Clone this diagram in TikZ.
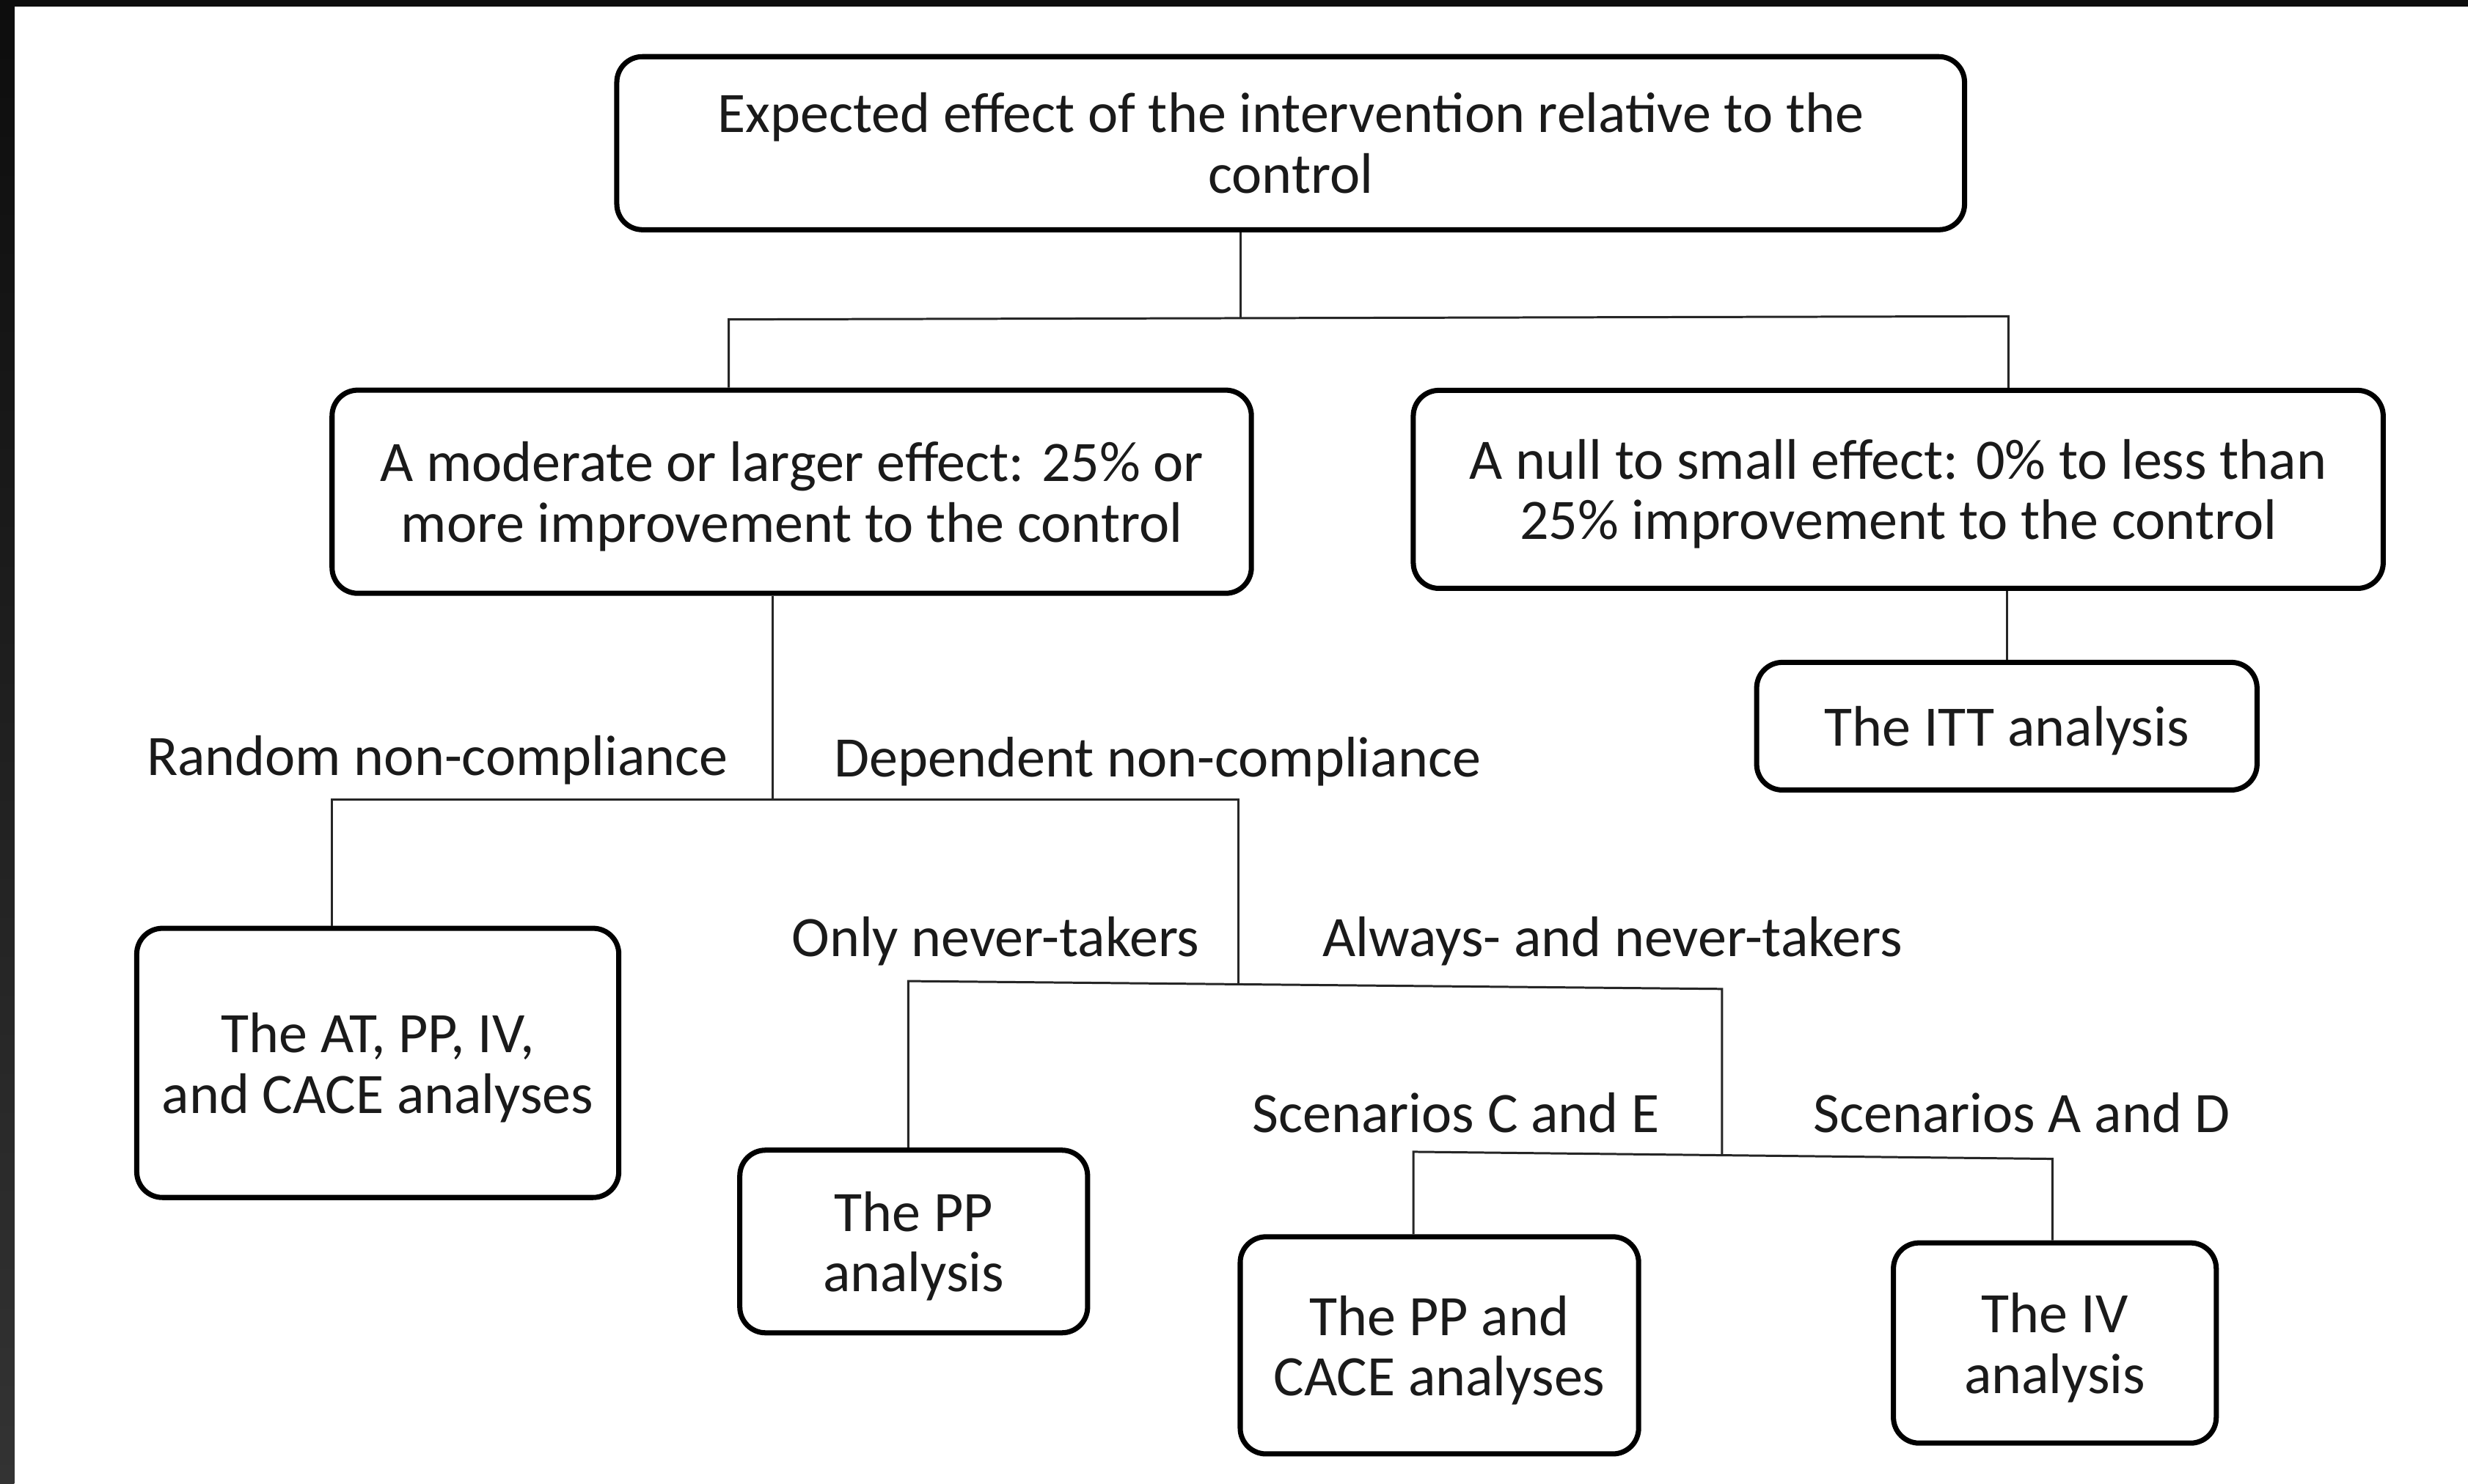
\documentclass[tikz,border=0pt]{standalone}
\usepackage{fontspec}
\setmainfont{Carlito}
\usetikzlibrary{calc}
\definecolor{textc}{HTML}{1A1A1A}
\definecolor{bandtop}{HTML}{0D0D0D}
\definecolor{bandbot}{HTML}{333333}
\newcommand\strtop{\rule{0pt}{22pt}}
\newcommand\strbot{\rule[-6.5pt]{0pt}{6.5pt}}
\tikzset{
  box/.style={draw=black, line width=2pt, rounded corners=0.35cm, align=center,
    inner sep=0pt, text=textc, font=\fontsize{22.2}{23.4}\selectfont},
  sz/.style 2 args={minimum width=#1cm, minimum height=#2cm},
  lbl/.style={inner sep=0pt, text=textc, font=\fontsize{22.2}{23.4}\selectfont},
  conn/.style={draw=black!85, line width=0.85pt}
}
\begin{document}
\begin{tikzpicture}[x=0.02146cm, y=-0.02146cm]
\useasboundingbox (0,0) rectangle (1568,943);
\fill[white] (0,0) rectangle (1568,943);
\shade[top color=bandtop, bottom color=bandbot] (0,0) rectangle (9,943);
\fill[bandtop] (0,0) rectangle (1568,4.2);

% boxes
\node[box, sz={18.37}{2.36}] (top) at (820,91) {Expected effect of the intervention relative to the\\control};
\node[box, sz={12.53}{2.77}] (mod) at (503,312.5) {\strtop A moderate or larger effect: 25\% or\\more improvement to the control\strbot};
\node[box, sz={13.22}{2.70}] (null) at (1206,311) {\strtop A null to small effect: 0\% to less than\\25\% improvement to the control\strbot};
\node[box, sz={6.82}{1.74}] (itt) at (1275,461.5) {\strtop The ITT analysis\strbot};
\node[box, sz={6.57}{3.67}] (at) at (240,675.5) {\strtop The AT, PP, IV,\\and CACE analyses\strbot};
\node[box, sz={4.74}{2.49}] (pp) at (580.5,789) {\strtop The PP\\analysis\strbot};
\node[box, sz={5.43}{2.96}] (ppc) at (914.5,855) {\strtop The PP and\\CACE analyses\strbot};
\node[box, sz={4.40}{2.73}] (iv) at (1305.5,853.5) {\strtop The IV\\analysis\strbot};

% labels
\node[lbl] (rnc) at (278,483) {Random non-compliance};
\node[lbl] (dnc) at (735.5,484) {Dependent non-compliance};
\node[lbl] (ont) at (632.5,598) {Only never-takers};
\node[lbl] (ant) at (1024.5,598) {Always- and never-takers};
\node[lbl] (sce) at (925,707) {Scenarios C and E};
\node[lbl] (sad) at (1284.5,707) {Scenarios A and D};

% junction coordinates
\coordinate (j1) at (788,202);
\coordinate (l1) at (463,203);
\coordinate (r1) at (1276,201);
\coordinate (j2) at (491,508);
\coordinate (l2) at (211,508);
\coordinate (r2) at (787,508);
\coordinate (j3) at (787,625.5);
\coordinate (l3) at (577,623.5);
\coordinate (r3) at (1094,628.5);
\coordinate (j4) at (1094,733.5);
\coordinate (l4) at (898,732);
\coordinate (r4) at (1304,736.5);

% connectors
\draw[conn] (j1 |- top.south) -- (j1);
\draw[conn] (l1 |- mod.north) -- (l1) -- (r1) -- (r1 |- null.north);
\draw[conn] (null.south -| itt.north) -- (itt.north);
\draw[conn] (j2 |- mod.south) -- (j2);
\draw[conn] (l2 |- at.north) -- (l2) -- (r2) -- (j3);
\draw[conn] (l3 |- pp.north) -- (l3) -- (r3) -- (j4);
\draw[conn] (l4 |- ppc.north) -- (l4) -- (r4) -- (r4 |- iv.north);
\end{tikzpicture}
\end{document}
